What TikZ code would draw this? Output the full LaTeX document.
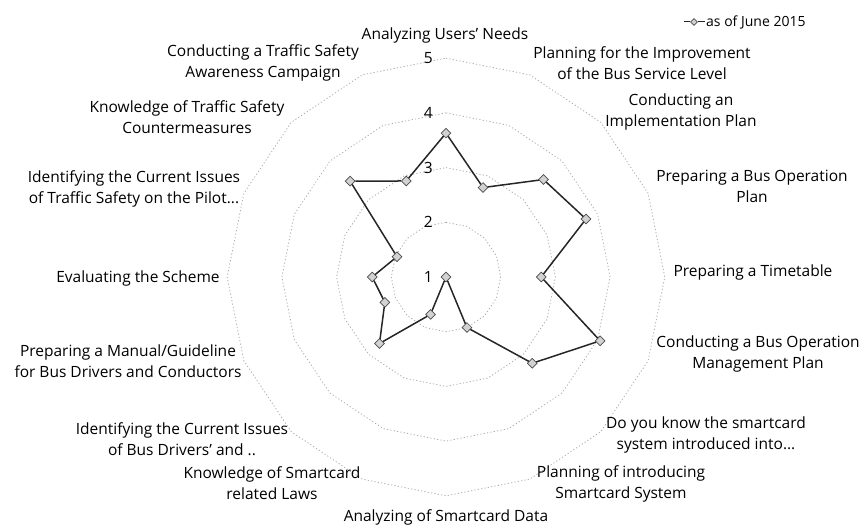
\documentclass[tikz,border=0pt]{standalone}
\usepackage{fontspec}
\setmainfont{Open Sans}
\usetikzlibrary{shapes.geometric}

\begin{document}
\begin{tikzpicture}[
    x=1pt, y=1pt,
    grade/.style={draw=gray!65, dash pattern=on 1.2pt off 2.2pt, line width=0.8pt},
    rotulo/.style={font=\fontsize{15.5}{21}\selectfont, align=center, inner sep=1pt},
    escala/.style={font=\fontsize{15.5}{18}\selectfont, anchor=east, inner sep=1pt},
    marca/.style={shape=diamond, draw=gray!60!black, fill=gray!35, minimum size=10pt, inner sep=0pt, line width=0.7pt},
    linha/.style={line width=1.5pt, black!85},
  ]
  \useasboundingbox (-446,-251) rectangle (422,277);
  % grade
  \foreach \v in {2,...,5} {
    \pgfmathsetmacro{\r}{(\v-1)*54.7}
    \draw[grade] (90:\r) \foreach \k in {1,...,15} { -- ({90-22.5*\k}:\r) } -- cycle;
    \node[escala] (e\v) at (-12,\r) {\v};
  }
  \node[escala] (e1) at (-12,0) {1};

  % dados
  \foreach \v [count=\k from 0] in {3.63,2.77,3.52,3.77,2.74,4.05,3.23,2.0,1.0,1.74,2.72,2.21,2.35,1.97,3.48,2.9}
    \node[marca] (m\k) at ({90-22.5*\k}:{(\v-1)*54.7}) {};
  \foreach \k [remember=\k as \j (initially 15)] in {0,...,15}
    \draw[linha] (m\j) -- (m\k);

  % rotulos
  \node[rotulo] (l0) at (-1,242) {Analyzing Users' Needs};
  \node[rotulo] (l1) at (196,214) {Planning for the Improvement\\of the Bus Service Level};
  \node[rotulo] (l2) at (235,165) {Conducting an\\Implementation Plan};
  \node[rotulo] (l3) at (306,91) {Preparing a Bus Operation\\Plan};
  \node[rotulo] (l4) at (307,5) {Preparing a Timetable};
  \node[rotulo] (l5) at (312,-77) {Conducting a Bus Operation\\Management Plan};
  \node[rotulo] (l6) at (260,-158) {Do you know the smartcard\\system introduced into...};
  \node[rotulo] (l7) at (175,-207) {Planning of introducing\\Smartcard System};
  \node[rotulo] (l8) at (0,-240) {Analyzing of Smartcard Data};
  \node[rotulo] (l9) at (-174,-206) {Knowledge of Smartcard\\related Laws};
  \node[rotulo] (l10) at (-264,-162) {Identifying the Current Issues\\of Bus Drivers' and ..};
  \node[rotulo] (l11) at (-318,-84) {Preparing a Manual/Guideline\\for Bus Drivers and Conductors};
  \node[rotulo] (l12) at (-308,-1) {Evaluating the Scheme};
  \node[rotulo] (l13) at (-312,88) {Identifying the Current Issues\\of Traffic Safety on the Pilot...};
  \node[rotulo] (l14) at (-259,160) {Knowledge of Traffic Safety\\Countermeasures};
  \node[rotulo] (l15) at (-183,214) {Conducting a Traffic Safety\\Awareness Campaign};

  % legenda
  \coordinate (lg) at (238,255);
  \node[marca, minimum size=7pt] (lgm) at (248,255) {};
  \node[rotulo, anchor=west, font=\fontsize{14}{16}\selectfont] (lgt) at (259,255) {as of June 2015};
  \draw[linha, line width=1pt] (lg) -- (lgm) -- (lgt);
\end{tikzpicture}
\end{document}
